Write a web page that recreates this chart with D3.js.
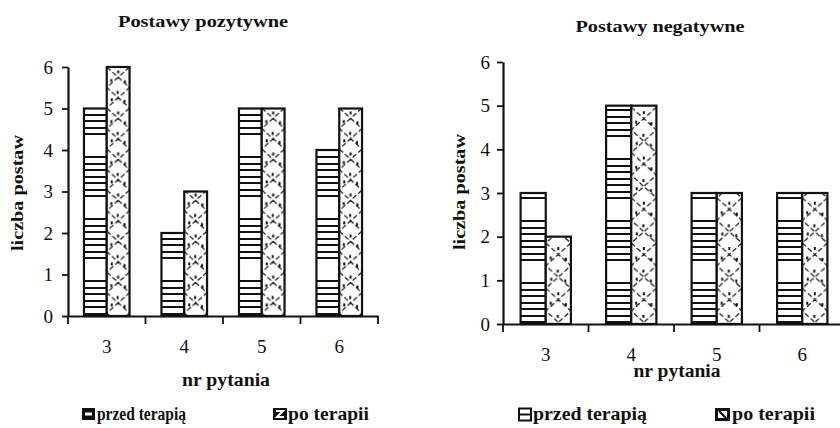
<!DOCTYPE html>
<html>
<head>
<meta charset="utf-8">
<script src="https://cdn.jsdelivr.net/npm/d3@7/dist/d3.min.js"></script>
<style>
  html, body { margin: 0; padding: 0; background: #fff; }
  svg { display: block; }
  text { font-family: "Liberation Serif", "Times New Roman", serif !important; fill: #111; }
</style>
</head>
<body>
<svg id="chart" width="840" height="428"></svg>
<script>
// Question numbers on the x axis
const categories = ["3", "4", "5", "6"];
// Number of attitudes, positive
const przedPozytywne = [5, 2, 5, 4];
const poPozytywne = [6, 3, 5, 5];
// Number of attitudes, negative
const przedNegatywne = [3, 5, 3, 3];
const poNegatywne = [2, 5, 3, 3];
// Y tick values and series names
const yTicks = [0, 1, 2, 3, 4, 5, 6];
const seriesNames = ["przed terapią", "po terapii"];

const svg = d3.select("#chart");
const defs = svg.append("defs");

// Horizontal striping for the "before" series: clusters of lines with a gap
function stripePattern(id, offsetY) {
  const p = defs.append("pattern")
    .attr("id", id)
    .attr("patternUnits", "userSpaceOnUse")
    .attr("width", 10).attr("height", 62)
    .attr("patternTransform", `translate(0,${offsetY})`);
  p.append("rect").attr("width", 10).attr("height", 62).attr("fill", "#fff");
  d3.range(7).forEach(i => {
    p.append("rect").attr("x", 0).attr("y", Math.round(i * 6.5))
      .attr("width", 10).attr("height", 2).attr("fill", "#111");
  });
}

// Dotted lattice for the "after" series, anchored on each bar's left edge
function latticePattern(id, x0, w, y0) {
  const h = w * 1.8;
  const p = defs.append("pattern")
    .attr("id", id)
    .attr("patternUnits", "userSpaceOnUse")
    .attr("width", w).attr("height", h)
    .attr("patternTransform", `translate(${x0},${y0})`);
  p.append("rect").attr("width", w).attr("height", h).attr("fill", "#fff");
  p.append("path")
    .attr("d", `M0,0L${w},${h / 2}L0,${h}M${w},0L0,${h / 2}L${w},${h}`)
    .attr("fill", "none").attr("stroke", "#111")
    .attr("stroke-width", 1.2).attr("stroke-dasharray", "5,2.5");
  const dots = [[0.5, 0.12], [0.2, 0.33], [0.8, 0.36], [0.48, 0.62],
                [0.22, 0.8], [0.78, 0.84]];
  dots.forEach(([dx, dy]) => {
    p.append("rect").attr("x", dx * w - 1).attr("y", dy * h - 1.5)
      .attr("width", 2).attr("height", 3).attr("fill", "#111");
  });
}

function drawChart(cfg) {
  const g = svg.append("g");
  const x = d3.scaleBand().domain(categories).range(cfg.xRange).padding(0);
  const x1 = d3.scaleBand().domain([0, 1]).range([0, x.bandwidth()])
    .paddingInner(0).paddingOuter(0.7);
  const y = d3.scaleLinear().domain([0, 6]).range(cfg.yRange);

  stripePattern(cfg.key + "-stripe", cfg.stripeOffset);

  // Bars
  const series = [cfg.przed, cfg.po];
  categories.forEach((c, i) => {
    series.forEach((vals, s) => {
      const bx = x(c) + x1(s);
      const bw = x1.bandwidth();
      let fill;
      if (s === 0) {
        fill = `url(#${cfg.key}-stripe)`;
      } else {
        const pid = `${cfg.key}-lat-${i}`;
        latticePattern(pid, bx, bw, y(6));
        fill = `url(#${pid})`;
      }
      g.append("rect")
        .attr("x", bx).attr("y", y(vals[i]))
        .attr("width", bw).attr("height", y(0) - y(vals[i]))
        .attr("fill", fill)
        .attr("stroke", "#111").attr("stroke-width", 2.2);
    });
  });

  // Y axis
  const yAxis = g.append("g")
    .attr("transform", `translate(${cfg.xRange[0]},0)`)
    .call(d3.axisLeft(y).tickValues(yTicks).tickFormat(d3.format("d"))
      .tickSize(6).tickSizeOuter(0).tickPadding(cfg.yPad));
  yAxis.attr("font-family", null);
  yAxis.select(".domain").attr("stroke", "#111").attr("stroke-width", 2.2);
  yAxis.selectAll(".tick line").attr("stroke", "#111").attr("stroke-width", 1.8);
  yAxis.selectAll(".tick text").attr("font-size", 19).attr("fill", "#111");

  // X axis: line, ticks at category boundaries, labels at centres
  const xAxis = g.append("g")
    .attr("transform", `translate(0,${y(0)})`)
    .call(d3.axisBottom(x).tickSize(0).tickPadding(cfg.xPad));
  xAxis.attr("font-family", null);
  xAxis.select(".domain").attr("stroke", "#111").attr("stroke-width", 2.2);
  xAxis.selectAll(".tick text").attr("font-size", 19).attr("fill", "#111");
  const bounds = categories.map(c => x(c)).concat([x.range()[1]]);
  xAxis.selectAll(".bound").data(bounds).enter().append("line")
    .attr("class", "bound")
    .attr("x1", d => d).attr("x2", d => d)
    .attr("y1", 0).attr("y2", 8)
    .attr("stroke", "#111").attr("stroke-width", 1.8);

  // Title
  g.append("text")
    .attr("x", cfg.title.x).attr("y", cfg.title.y)
    .attr("text-anchor", "middle")
    .attr("font-size", 17).attr("font-weight", "bold")
    .attr("textLength", cfg.title.len).attr("lengthAdjust", "spacingAndGlyphs")
    .text(cfg.titleText);

  // Axis titles
  g.append("text")
    .attr("transform", `translate(${cfg.yLabel.x},${cfg.yLabel.y}) rotate(-90)`)
    .attr("text-anchor", "middle")
    .attr("font-size", 16).attr("font-weight", "bold")
    .attr("textLength", cfg.yLabel.len).attr("lengthAdjust", "spacingAndGlyphs")
    .text("liczba postaw");
  g.append("text")
    .attr("x", cfg.xLabel.x).attr("y", cfg.xLabel.y)
    .attr("text-anchor", "middle")
    .attr("font-size", 18).attr("font-weight", "bold")
    .attr("textLength", cfg.xLabel.len).attr("lengthAdjust", "spacingAndGlyphs")
    .text("nr pytania");

  // Legend
  const lg = g.append("g");
  cfg.legend.forEach((L, s) => {
    cfg.swatch(lg, L.sx, s);
    lg.append("text")
      .attr("x", L.tx).attr("y", 420)
      .attr("font-size", 18).attr("font-weight", "bold")
      .attr("textLength", L.len).attr("lengthAdjust", "spacingAndGlyphs")
      .text(seriesNames[s]);
  });
}

// Legend keys, positive chart
function swatchLeft(lg, sx, s) {
  if (s === 0) {
    lg.append("rect").attr("x", sx).attr("y", 408).attr("width", 13).attr("height", 12).attr("fill", "#111");
    lg.append("rect").attr("x", sx + 3).attr("y", 412.5).attr("width", 7).attr("height", 3).attr("fill", "#fff");
  } else {
    lg.append("rect").attr("x", sx).attr("y", 408).attr("width", 14).attr("height", 12).attr("fill", "#111");
    lg.append("path")
      .attr("d", `M${sx + 3},${411} L${sx + 10},${411} L${sx + 4},${417} L${sx + 11},${417}`)
      .attr("fill", "none").attr("stroke", "#fff").attr("stroke-width", 2);
  }
}
// Legend keys, negative chart
function swatchRight(lg, sx, s) {
  if (s === 0) {
    lg.append("rect").attr("x", sx + 1).attr("y", 408.5).attr("width", 12).attr("height", 12)
      .attr("fill", "#fff").attr("stroke", "#111").attr("stroke-width", 2);
    lg.append("line").attr("x1", sx + 1).attr("x2", sx + 13).attr("y1", 414.5).attr("y2", 414.5)
      .attr("stroke", "#111").attr("stroke-width", 2);
  } else {
    lg.append("rect").attr("x", sx).attr("y", 408).attr("width", 15).attr("height", 13).attr("fill", "#111");
    lg.append("rect").attr("x", sx + 3).attr("y", 411).attr("width", 9).attr("height", 7).attr("fill", "#fff");
    lg.append("line").attr("x1", sx + 4).attr("x2", sx + 11).attr("y1", 411).attr("y2", 418)
      .attr("stroke", "#111").attr("stroke-width", 2.2);
  }
}

drawChart({
  key: "poz",
  przed: przedPozytywne, po: poPozytywne,
  xRange: [68, 378], yRange: [316, 67],
  stripeOffset: 280,
  yPad: 9, xPad: 24,
  titleText: "Postawy pozytywne",
  title: { x: 203, y: 27, len: 170 },
  yLabel: { x: 23, y: 193, len: 116 },
  xLabel: { x: 226, y: 386, len: 88 },
  legend: [{ sx: 82, tx: 97, len: 89 }, { sx: 273, tx: 288, len: 81 }],
  swatch: swatchLeft
});

drawChart({
  key: "neg",
  przed: przedNegatywne, po: poNegatywne,
  xRange: [503, 845], yRange: [324, 62],
  stripeOffset: 282,
  yPad: 7, xPad: 24,
  titleText: "Postawy negatywne",
  title: { x: 660, y: 32, len: 169 },
  yLabel: { x: 465, y: 192, len: 116 },
  xLabel: { x: 677, y: 377, len: 87 },
  legend: [{ sx: 518, tx: 533, len: 114 }, { sx: 715, tx: 732, len: 83 }],
  swatch: swatchRight
});
</script>
</body>
</html>
